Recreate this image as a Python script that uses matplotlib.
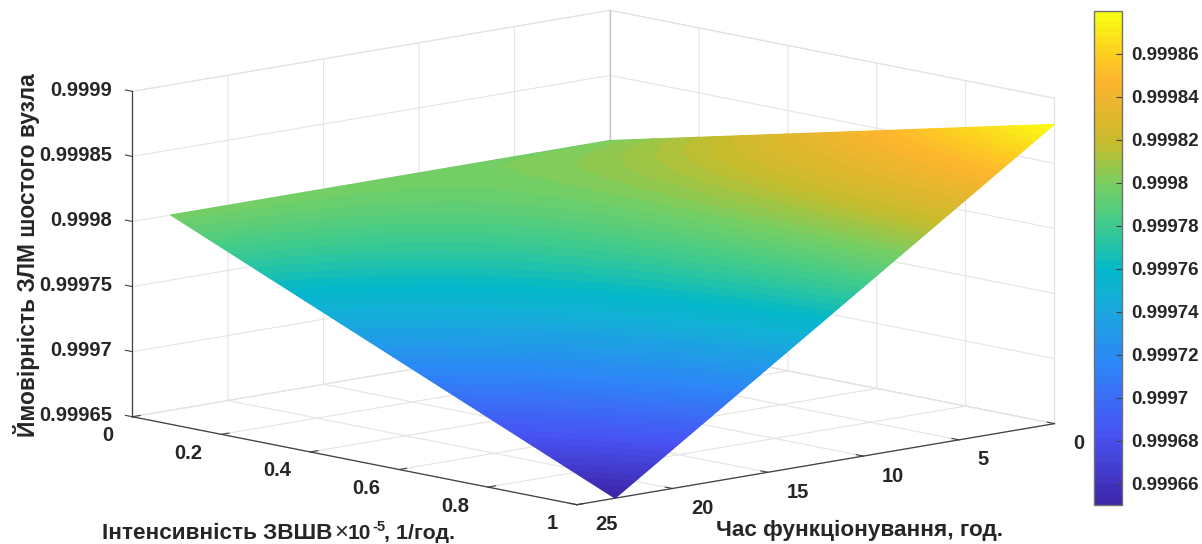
"""Reliability surface: probability vs. attack intensity and operating time."""
import matplotlib
matplotlib.use("Agg")
import matplotlib.pyplot as plt
import matplotlib.tri as mtri
from matplotlib.cm import ScalarMappable
from matplotlib.colors import BoundaryNorm, LinearSegmentedColormap, ListedColormap
from mpl_toolkits.mplot3d import proj3d
import numpy as np

plt.rcParams["font.family"] = ["Liberation Sans", "DejaVu Sans"]
plt.rcParams["font.weight"] = "bold"

intensity = [0, 0.1, 0.2, 0.3, 0.4, 0.5, 0.6, 0.7, 0.8, 0.9, 1]
hours = [0, 2, 4, 6, 8, 10, 12, 14, 16, 18, 20, 22, 23]
prob_h0 = [0.999800, 0.999808, 0.999816, 0.999824, 0.999832, 0.999840, 0.999848, 0.999856, 0.999864, 0.999872, 0.999880]
prob_h2 = [0.999800, 0.999806, 0.999812, 0.999818, 0.999824, 0.999830, 0.999836, 0.999842, 0.999848, 0.999854, 0.999860]
prob_h4 = [0.999800, 0.999804, 0.999808, 0.999812, 0.999816, 0.999820, 0.999824, 0.999828, 0.999832, 0.999836, 0.999840]
prob_h6 = [0.999800, 0.999802, 0.999804, 0.999806, 0.999808, 0.999810, 0.999812, 0.999814, 0.999816, 0.999818, 0.999820]
prob_h8 = [0.999800, 0.999800, 0.999800, 0.999800, 0.999800, 0.999800, 0.999800, 0.999800, 0.999800, 0.999800, 0.999800]
prob_h10 = [0.999800, 0.999798, 0.999796, 0.999794, 0.999792, 0.999790, 0.999788, 0.999786, 0.999784, 0.999782, 0.999780]
prob_h12 = [0.999800, 0.999796, 0.999792, 0.999788, 0.999784, 0.999780, 0.999776, 0.999772, 0.999768, 0.999764, 0.999760]
prob_h14 = [0.999800, 0.999794, 0.999788, 0.999782, 0.999776, 0.999770, 0.999764, 0.999758, 0.999752, 0.999746, 0.999740]
prob_h16 = [0.999800, 0.999792, 0.999784, 0.999776, 0.999768, 0.999760, 0.999752, 0.999744, 0.999736, 0.999728, 0.999720]
prob_h18 = [0.999800, 0.999790, 0.999780, 0.999770, 0.999760, 0.999750, 0.999740, 0.999730, 0.999720, 0.999710, 0.999700]
prob_h20 = [0.999800, 0.999788, 0.999776, 0.999764, 0.999752, 0.999740, 0.999728, 0.999716, 0.999704, 0.999692, 0.999680]
prob_h22 = [0.999800, 0.999786, 0.999772, 0.999758, 0.999744, 0.999730, 0.999716, 0.999702, 0.999688, 0.999674, 0.999660]
prob_h23 = [0.999800, 0.999785, 0.999770, 0.999755, 0.999740, 0.999725, 0.999710, 0.999695, 0.999680, 0.999665, 0.999650]
prob = np.array([prob_h0, prob_h2, prob_h4, prob_h6, prob_h8, prob_h10, prob_h12,
                 prob_h14, prob_h16, prob_h18, prob_h20, prob_h22, prob_h23])

x_ticks = [0, 0.2, 0.4, 0.6, 0.8, 1]
x_labels = ["0", "0.2", "0.4", "0.6", "0.8", "1"]
y_ticks = [0, 5, 10, 15, 20, 25]
y_labels = ["0", "5", "10", "15", "20", "25"]
z_ticks = [0.99965, 0.9997, 0.99975, 0.9998, 0.99985, 0.9999]
z_labels = ["0.99965", "0.9997", "0.99975", "0.9998", "0.99985", "0.9999"]
cbar_ticks = [0.99966, 0.99968, 0.9997, 0.99972, 0.99974, 0.99976,
              0.99978, 0.9998, 0.99982, 0.99984, 0.99986]
cbar_labels = ["0.99966", "0.99968", "0.9997", "0.99972", "0.99974", "0.99976",
               "0.99978", "0.9998", "0.99982", "0.99984", "0.99986"]
cmap_stops = [(0, "#3e26a8"), (0.14, "#4853f4"), (0.29, "#2d87f7"), (0.43, "#12b1d6"),
              (0.48, "#03b8c8"), (0.57, "#3dcb8e"), (0.652, "#74cf64"), (0.739, "#c6bc2c"),
              (0.80, "#e0b72e"), (0.87, "#feb52e"), (0.93, "#fcd21f"), (1, "#f9fb15")]

W, H = 1202, 544
TEXT = "#262626"
GRID = "#e4e4e4"
AXIS = "#404040"

parula = ListedColormap(
    LinearSegmentedColormap.from_list("parula", cmap_stops)(np.linspace(0, 1, 64)))
vmin, vmax = 0.99965, 0.99988
levels = np.linspace(vmin, vmax, 65)
norm = BoundaryNorm(levels, 64)

fig = plt.figure(figsize=(W / 100, H / 100), dpi=100)

# 3d axes are always square, so the box size comes from the side length
side = 951.7
frac = 0.095 / 0.185
cx, cy = 593.5, H - 257.5
ax = fig.add_axes([(cx - frac * side) / W, (cy - frac * side) / H, side / W, side / H],
                  projection="3d", computed_zorder=False)
ax.set_proj_type("ortho")
ax.view_init(elev=10.56, azim=-42.8)
ax.set_box_aspect((654, 651, 331))
ax.set_xlim(0, 1, view_margin=0)
ax.set_ylim(25, 0, view_margin=0)
ax.set_zlim(z_ticks[0], z_ticks[-1], view_margin=0)
ax.set_xticks(x_ticks)
ax.set_yticks(y_ticks)
ax.set_zticks(z_ticks)
ax.set_xticklabels([])
ax.set_yticklabels([])
ax.set_zticklabels([])
ax.patch.set_alpha(0)
for axis in (ax.xaxis, ax.yaxis, ax.zaxis):
    axis.set_pane_color((1, 1, 1, 1))
    axis.pane.set_edgecolor(GRID)
    axis.pane.set_linewidth(0.8)
    axis.line.set_color(AXIS)
    axis.line.set_linewidth(0.9)
    axis._axinfo["grid"].update(color=GRID, linewidth=0.8)
    axis._axinfo["tick"].update(inward_factor=0.0, outward_factor=0.2, color=AXIS)
    axis._axinfo["tick"]["linewidth"] = {True: 0.8, False: 0.5}
ax.tick_params(colors=AXIS)
ax.zaxis.set_ticks_position("upper")
# back corner edge is a bit darker in the original
ax.plot([0, 0], [0, 0], [z_ticks[0], z_ticks[-1]], color="#c4c4c4", lw=0.9)
fig.canvas.draw()

M = ax.get_proj()


def to_pixels(xs, ys, zs):
    px, py, _ = proj3d.proj_transform(np.asarray(xs, float), np.asarray(ys, float),
                                      np.asarray(zs, float), M)
    return ax.transData.transform(np.column_stack([px, py]))


ov = fig.add_axes([0, 0, 1, 1], facecolor="none")
ov.set_xlim(0, W)
ov.set_ylim(0, H)
ov.axis("off")

# surface drawn on a flat overlay, so colour bands follow the vertex values
grid_x, grid_y = np.meshgrid(intensity, hours)
pts = to_pixels(grid_x.ravel(), grid_y.ravel(), prob.ravel())
n_rows, n_cols = prob.shape
triangles = []
for i in range(n_rows - 1):
    for j in range(n_cols - 1):
        a, b = i * n_cols + j, i * n_cols + j + 1
        c, d = a + n_cols, b + n_cols
        triangles += [[a, b, c], [b, d, c]]
tri = mtri.Triangulation(pts[:, 0], pts[:, 1], triangles)
ov.tripcolor(tri, prob.ravel(), shading="gouraud", cmap=parula, vmin=vmin, vmax=vmax)
ov.tricontourf(tri, prob.ravel(), levels=levels, cmap=parula, norm=norm, antialiased=True)

# tick labels
for v, lab in zip(x_ticks, x_labels):
    p = to_pixels([v], [25], [z_ticks[0]])[0]
    ov.annotate(lab, xy=p, xytext=(-19, -19), textcoords="offset pixels",
                ha="right", va="center", fontsize=14.5, color=TEXT)
for v, lab in zip(y_ticks, y_labels):
    p = to_pixels([1], [v], [z_ticks[0]])[0]
    ov.annotate(lab, xy=p, xytext=(18.5, -20), textcoords="offset pixels",
                ha="left", va="center", fontsize=14.5, color=TEXT)
for v, lab in zip(z_ticks, z_labels):
    p = to_pixels([0], [25], [v])[0]
    ov.annotate(lab, xy=p, xytext=(-20, 1), textcoords="offset pixels",
                ha="right", va="center", fontsize=14.5, color=TEXT)

label_size = 16.2
ov.text(102, H - 539, "Інтенсивність ЗВШВ", ha="left", va="baseline",
        fontsize=label_size, color=TEXT)
ov.text(334, H - 539, "×", ha="left", va="baseline", fontsize=17,
        fontweight="normal", color=TEXT)
ov.text(348, H - 539, "10", ha="left", va="baseline", fontsize=15, color=TEXT)
ov.text(372, H - 531, "-5", ha="left", va="baseline", fontsize=10.5, color=TEXT)
ov.text(384, H - 539, ", 1/год.", ha="left", va="baseline", fontsize=15.4, color=TEXT)
ov.text(716, H - 536, "Час функціонування, год.", ha="left", va="baseline",
        fontsize=label_size, color=TEXT)
ov.text(27, H - 255, "Ймовірність ЗЛМ шостого вузла", rotation=90,
        ha="center", va="center", fontsize=16.4, color=TEXT)

cax = fig.add_axes([1094 / W, (H - 505) / H, 28 / W, 494 / H])
cbar = fig.colorbar(ScalarMappable(norm=norm, cmap=parula), cax=cax, spacing="proportional")
cbar.solids.set_edgecolor("face")
cbar.set_ticks(cbar_ticks, labels=cbar_labels)
cbar.minorticks_off()
cbar.ax.tick_params(direction="in", length=4, width=0.8, color=AXIS, labelsize=13.5,
                    labelcolor=TEXT, pad=7)
cbar.outline.set_edgecolor("#707070")
cbar.outline.set_linewidth(1.0)

fig.savefig("out.png", dpi=100)
